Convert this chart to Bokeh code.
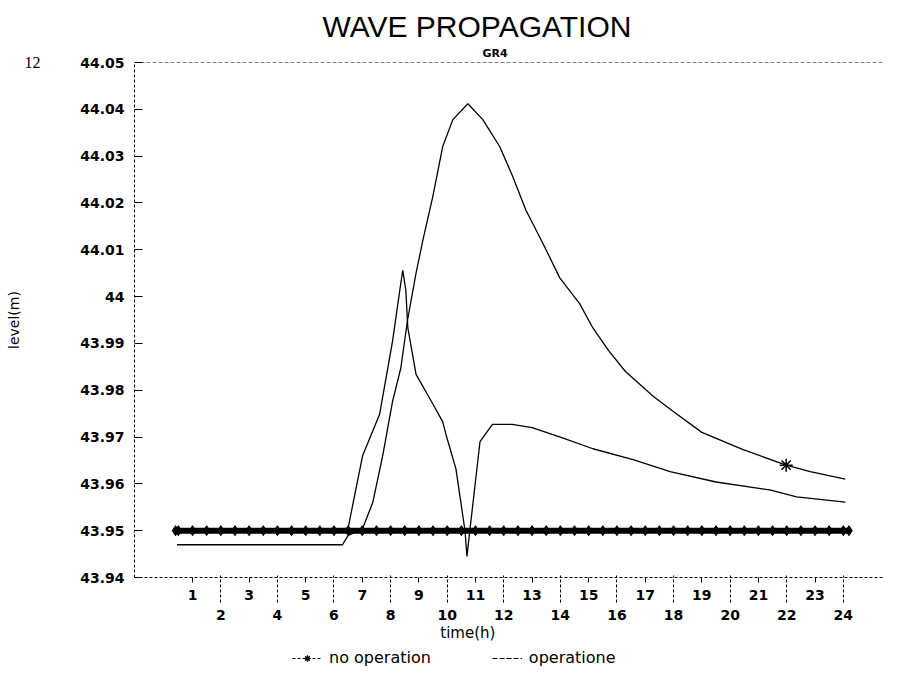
from bokeh.plotting import figure
from bokeh.models import (Range1d, LinearAxis, FixedTicker, Title, Span, Legend,
                          LegendItem)
from bokeh.layouts import column
from bokeh.embed import file_html
from bokeh.resources import INLINE

# ---------------- data ----------------
title_text = "WAVE PROPAGATION"
subtitle_text = "GR4"
page_number = "12"
x_title = "time(h)"
y_title = "level(m)"
legend_labels = ["no operation", "operatione"]

y_ticks = [43.94, 43.95, 43.96, 43.97, 43.98, 43.99, 44.0, 44.01, 44.02, 44.03, 44.04, 44.05]
y_tick_labels = ["43.94", "43.95", "43.96", "43.97", "43.98", "43.99", "44",
                 "44.01", "44.02", "44.03", "44.04", "44.05"]
odd_hours = [1, 3, 5, 7, 9, 11, 13, 15, 17, 19, 21, 23]
even_hours = [2, 4, 6, 8, 10, 12, 14, 16, 18, 20, 22, 24]

# "no operation" series (hours, level m)
noop_t = [0.45, 6.3, 6.5, 7.0, 7.37, 7.72, 8.07, 8.36, 8.6, 8.9, 9.14, 9.49, 9.84,
          10.2, 10.73, 11.26, 11.86, 12.32, 12.78, 13.38, 13.98, 14.68, 15.15,
          15.7, 16.3, 17.28, 17.98, 19.0, 20.46, 21.98, 22.83, 24.07]
noop_lv = [43.947, 43.947, 43.949, 43.9503, 43.956, 43.966, 43.9776, 43.9847,
           43.995, 44.005, 44.012, 44.0213, 44.032, 44.0378, 44.0412, 44.0378,
           44.032, 44.0256, 44.0185, 44.0114, 44.004, 43.9985, 43.9933, 43.9885,
           43.984, 43.9787, 43.9755, 43.971, 43.9673, 43.964, 43.9626, 43.961]
star_t = [21.98]
star_lv = [43.964]

# "operatione" series
op_t = [0.45, 6.49, 7.01, 7.61, 8.07, 8.36, 8.43, 8.54, 8.61, 8.9, 9.5, 9.84, 9.96,
        10.31, 10.63, 10.7, 10.8, 11.16, 11.6, 12.3, 13.0, 14.0, 15.15, 16.57,
        17.88, 19.5, 21.4, 22.35, 24.07]
op_lv = [43.95, 43.9503, 43.966, 43.9748, 43.9905, 44.0028, 44.0056, 44.0013,
         43.9933, 43.9834, 43.977, 43.9733, 43.9705, 43.9632, 43.950, 43.9445,
         43.950, 43.969, 43.9727, 43.9727, 43.972, 43.970, 43.9675, 43.9652,
         43.9626, 43.9604, 43.9587, 43.9572, 43.9561]

# dense marker band at the reference level
band_t = [0.4, 0.5, 1.0, 1.5, 2.0, 2.5, 3.0, 3.5, 4.0, 4.5, 5.0, 5.5, 6.0, 6.5,
          7.0, 7.5, 8.0, 8.5, 9.0, 9.5, 10.0, 10.5, 11.0, 11.5, 12.0, 12.5, 13.0,
          13.5, 14.0, 14.5, 15.0, 15.5, 16.0, 16.5, 17.0, 17.5, 18.0, 18.5, 19.0,
          19.5, 20.0, 20.5, 21.0, 21.5, 22.0, 22.5, 23.0, 23.5, 24.0, 24.2]
band_lv = [43.95] * len(band_t)

tick_font = "DejaVu Sans"

# ---------------- main figure ----------------
p = figure(width=885, height=648, output_backend="svg", toolbar_location=None,
           x_range=Range1d(-1.05, 25.42), y_range=Range1d(43.94, 44.05),
           x_axis_type=None, y_axis_type=None, title=None,
           min_border_left=134, min_border_right=2, min_border_top=62,
           min_border_bottom=71)
p.outline_line_color = None
p.background_fill_color = "white"
p.border_fill_color = "white"

# y axis (ticks + numbers)
yax = LinearAxis(ticker=FixedTicker(ticks=y_ticks),
                 major_label_overrides={t: l for t, l in zip(y_ticks, y_tick_labels)})
yax.axis_line_dash = "3 2"
yax.axis_line_color = "black"
yax.major_tick_in = 8
yax.major_tick_out = 0
yax.major_tick_line_color = "black"
yax.major_label_standoff = 10
yax.major_label_text_font = tick_font
yax.major_label_text_font_size = "14px"
yax.major_label_text_font_style = "bold"
yax.major_label_text_color = "black"
p.add_layout(yax, "left")

# outer left strip: page number at the top, axis title "level(m)"
yout = LinearAxis(ticker=FixedTicker(ticks=[44.05]),
                  major_label_overrides={44.05: page_number})
yout.axis_line_color = None
yout.major_tick_line_color = None
yout.major_tick_in = 0
yout.major_tick_out = 0
yout.major_label_standoff = 37
yout.major_label_text_font = "Liberation Serif"
yout.major_label_text_font_size = "16px"
yout.major_label_text_color = "black"
yout.axis_label = y_title
yout.axis_label_standoff = 0
yout.axis_label_text_font = tick_font
yout.axis_label_text_font_size = "14px"
yout.axis_label_text_font_style = "normal"
yout.axis_label_text_color = "black"
p.add_layout(yout, "left")

# x axis: odd hours (upper row)
xodd = LinearAxis(ticker=FixedTicker(ticks=odd_hours))
xodd.axis_line_dash = "3 2"
xodd.axis_line_color = "black"
xodd.major_tick_in = 0
xodd.major_tick_out = 5
xodd.major_label_standoff = 7
xodd.major_label_text_font = tick_font
xodd.major_label_text_font_size = "14px"
xodd.major_label_text_font_style = "bold"
xodd.major_label_text_color = "black"
p.add_layout(xodd, "below")

# x axis: even hours (lower row)
xeven = LinearAxis(ticker=FixedTicker(ticks=even_hours))
xeven.axis_line_color = None
xeven.major_tick_in = 27
xeven.major_tick_out = 0
xeven.major_tick_line_dash = "3 2"
xeven.major_tick_line_color = "black"
xeven.major_label_standoff = 7
xeven.major_label_text_font = tick_font
xeven.major_label_text_font_size = "14px"
xeven.major_label_text_font_style = "bold"
xeven.major_label_text_color = "black"
p.add_layout(xeven, "below")

# x axis title row (placed where the reference centres it)
time_label_pos = 10.73
xlab = LinearAxis(ticker=FixedTicker(ticks=[time_label_pos]),
                  major_label_overrides={time_label_pos: x_title})
xlab.axis_line_color = None
xlab.major_tick_line_color = None
xlab.major_tick_in = 0
xlab.major_tick_out = 0
xlab.major_label_standoff = 1
xlab.major_label_text_font = tick_font
xlab.major_label_text_font_size = "15px"
xlab.major_label_text_color = "black"
p.add_layout(xlab, "below")

# top border
p.add_layout(Span(location=44.05, dimension="width", line_color="black",
                  line_dash="4 2", line_width=1))

# band
p.line(band_t, band_lv, line_color="black", line_width=6)
p.scatter(band_t, band_lv, marker="diamond", size=10, line_color="black",
          fill_color="black", line_width=1)

# series
p.line(noop_t, noop_lv, line_color="black", line_width=1.3)
p.scatter(star_t, star_lv, marker="asterisk", size=13,
          line_color="black", line_width=1.5)
p.line(op_t, op_lv, line_color="black", line_width=1.3)

# titles
p.add_layout(Title(text=subtitle_text, align="left", offset=348,
                   text_font=tick_font, text_font_size="11px",
                   text_font_style="bold", text_color="black", standoff=5), "above")
p.add_layout(Title(text=title_text, align="left", offset=188,
                   text_font="Liberation Sans", text_font_size="30px",
                   text_font_style="normal", text_color="black", standoff=0), "above")

# ---------------- legend strip ----------------
lg = figure(width=885, height=20, output_backend="svg", toolbar_location=None,
            x_range=Range1d(0, 1), y_range=Range1d(0, 1),
            x_axis_type=None, y_axis_type=None, title=None,
            min_border_left=0, min_border_right=0, min_border_top=0,
            min_border_bottom=0)
lg.outline_line_color = None
lg.background_fill_color = "white"
lg.border_fill_color = "white"
# legend keys (drawn outside the visible range; only their legend glyphs show)
g_noop = lg.line([-5, -4], [-5, -5], line_color="black", line_width=1, line_dash="3 2")
g_star = lg.scatter([-5], [-5], marker="asterisk", size=10, line_color="black",
                    line_width=1.3)
g_op = lg.line([-5, -4], [-5, -5], line_color="black", line_width=1, line_dash="5 2")

legend = Legend(items=[LegendItem(label=legend_labels[0], renderers=[g_noop, g_star]),
                       LegendItem(label=legend_labels[1], renderers=[g_op])],
                orientation="horizontal", location=(158, 1))
legend.border_line_color = None
legend.background_fill_alpha = 0
legend.label_text_font = tick_font
legend.label_text_font_size = "16px"
legend.label_text_color = "black"
legend.glyph_width = 30
legend.label_standoff = 7
legend.spacing = 61
legend.padding = 0
legend.margin = 0
legend.label_height = 16
legend.glyph_height = 16
lg.add_layout(legend)

layout = column(p, lg, spacing=0)
open("out.html", "w").write(file_html(layout, INLINE))
